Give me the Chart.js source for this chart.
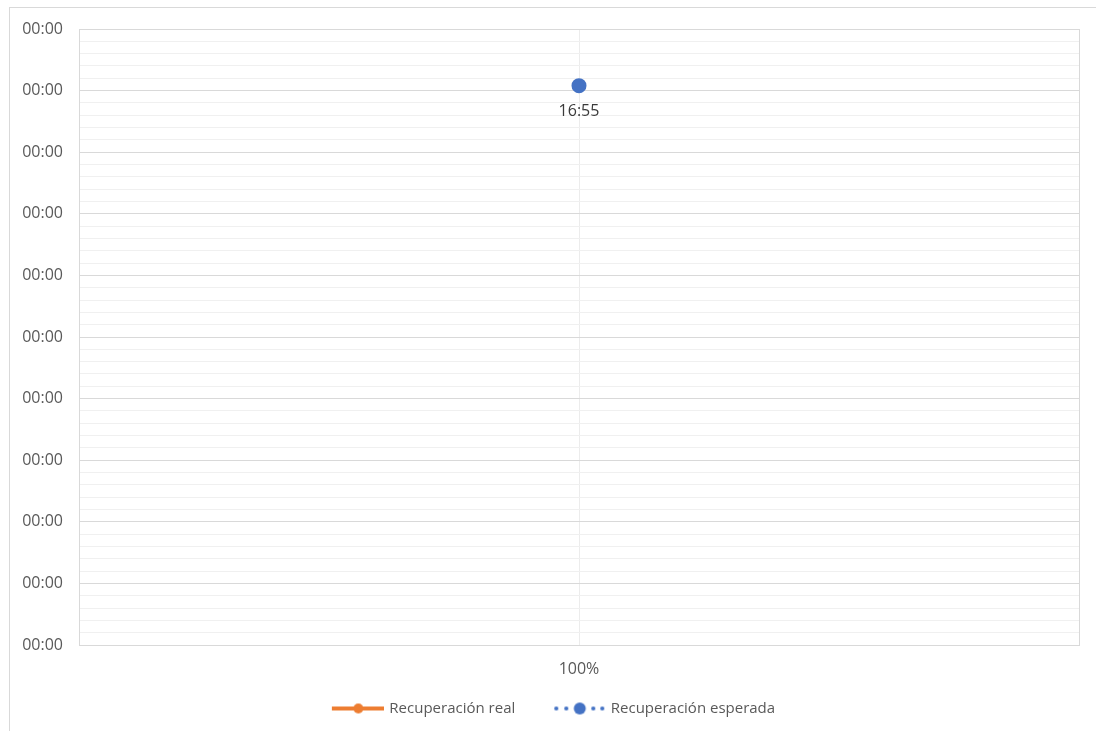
<!DOCTYPE html>
<html>
<head>
<meta charset="utf-8">
<script src="https://cdn.jsdelivr.net/npm/chart.js@4.4.0/dist/chart.umd.min.js"></script>
<style>
    html, body { margin: 0; padding: 0; background: #fff; overflow: hidden; }
    #frame { position: absolute; left: 9px; top: 7px; width: 1200px; height: 800px; border: 1px solid #d9d9d9; }
    #wrap { position: absolute; left: 0; top: 0; width: 1096px; height: 731px; }
</style>
</head>
<body>
<div id="frame"></div>
<div id="wrap"><canvas id="chart"></canvas></div>
<script>
// Categories and series
const categories = ['100%'];
const realValues = [null];
const expectedValues = [9.08];
const pointLabels = ['16:55'];
const yTickLabels = ['00:00', '00:00', '00:00', '00:00', '00:00', '00:00', '00:00', '00:00', '00:00', '00:00', '00:00'];
const seriesNames = ['Recuperación real', 'Recuperación esperada'];

const FONT = "'Open Sans', sans-serif";

function isMajor(v) {
    return Math.abs(v - Math.round(v)) < 1e-6;
}

// Legend swatches: line + marker, drawn into small canvases
function makeSwatch(kind) {
    const c = document.createElement('canvas');
    c.width = 78;
    c.height = 14;
    const g = c.getContext('2d');
    const cy = 7;
    const mid = 52.5;
    if (kind === 'real') {
        g.strokeStyle = '#ed7d31';
        g.lineWidth = 4;
        g.beginPath();
        g.moveTo(26, cy);
        g.lineTo(78, cy);
        g.stroke();
        g.fillStyle = '#ed7d31';
        g.beginPath();
        g.arc(mid, cy, 5, 0, Math.PI * 2);
        g.fill();
    } else {
        g.fillStyle = '#4472c4';
        [mid - 23.5, mid - 13.5, mid + 13.5, mid + 22.5].forEach(x => {
            g.beginPath();
            g.arc(x, cy, 2.1, 0, Math.PI * 2);
            g.fill();
        });
        g.beginPath();
        g.arc(mid, cy, 6, 0, Math.PI * 2);
        g.fill();
    }
    return c;
}

const swatches = [makeSwatch('real'), makeSwatch('expected')];

// Plot area outline
const plotFrame = {
    id: 'plotFrame',
    afterDraw(chart) {
        const a = chart.chartArea;
        const ctx = chart.ctx;
        ctx.save();
        ctx.strokeStyle = '#d9d9d9';
        ctx.lineWidth = 1;
        ctx.strokeRect(Math.round(a.left) + 0.5, Math.round(a.top) + 0.5, Math.round(a.right - a.left), Math.round(a.bottom - a.top));
        ctx.restore();
    }
};

// Data label under the expected point
const pointLabelPlugin = {
    id: 'pointLabel',
    afterDatasetsDraw(chart) {
        const meta = chart.getDatasetMeta(1);
        const ctx = chart.ctx;
        ctx.save();
        ctx.font = '16px ' + FONT;
        ctx.fillStyle = '#3a3a3a';
        ctx.textAlign = 'center';
        ctx.textBaseline = 'middle';
        meta.data.forEach((pt, i) => {
            if (expectedValues[i] == null) return;
            ctx.fillText(pointLabels[i], pt.x, pt.y + 26);
        });
        ctx.restore();
    }
};

const ctx = document.getElementById('chart').getContext('2d');
const chart = new Chart(ctx, {
    type: 'line',
    data: {
        labels: categories,
        datasets: [
            {
                label: seriesNames[0],
                data: realValues,
                borderColor: '#ed7d31',
                backgroundColor: '#ed7d31',
                borderWidth: 4,
                pointRadius: 5
            },
            {
                label: seriesNames[1],
                data: expectedValues,
                borderColor: '#4472c4',
                backgroundColor: '#4472c4',
                borderWidth: 3,
                borderDash: [2, 6],
                pointRadius: 6,
                pointHoverRadius: 6
            }
        ]
    },
    options: {
        responsive: true,
        maintainAspectRatio: false,
        animation: false,
        layout: {
            padding: { left: 4, right: 17, top: 29, bottom: 5 }
        },
        plugins: {
            tooltip: { enabled: false },
            legend: {
                position: 'bottom',
                labels: {
                    usePointStyle: true,
                    pointStyleWidth: 74,
                    padding: 14,
                    color: '#595959',
                    font: { family: FONT, size: 15 },
                    generateLabels(chart) {
                        return chart.data.datasets.map((ds, i) => ({
                            text: ds.label,
                            pointStyle: swatches[i],
                            fillStyle: ds.borderColor,
                            strokeStyle: ds.borderColor,
                            lineWidth: 0,
                            fontColor: '#595959',
                            hidden: false,
                            datasetIndex: i
                        }));
                    }
                }
            }
        },
        scales: {
            x: {
                offset: true,
                grid: {
                    color: '#ececec',
                    drawTicks: false,
                    offset: false
                },
                border: { display: false },
                ticks: {
                    color: '#595959',
                    font: { family: FONT, size: 16 },
                    padding: 15
                },
                afterFit(scale) {
                    scale.height = 42;
                }
            },
            y: {
                min: 0,
                max: 10,
                grid: {
                    drawTicks: false,
                    color: c => isMajor(c.tick.value) ? '#d9d9d9' : '#f0f0f0'
                },
                border: { display: false },
                ticks: {
                    stepSize: 0.2,
                    autoSkip: false,
                    padding: 16,
                    color: '#595959',
                    font: { family: FONT, size: 16 },
                    callback: v => isMajor(v) ? yTickLabels[Math.round(v)] : ''
                },
                afterFit(scale) {
                    scale.width = 75;
                }
            }
        }
    },
    plugins: [plotFrame, pointLabelPlugin]
});
</script>
</body>
</html>
